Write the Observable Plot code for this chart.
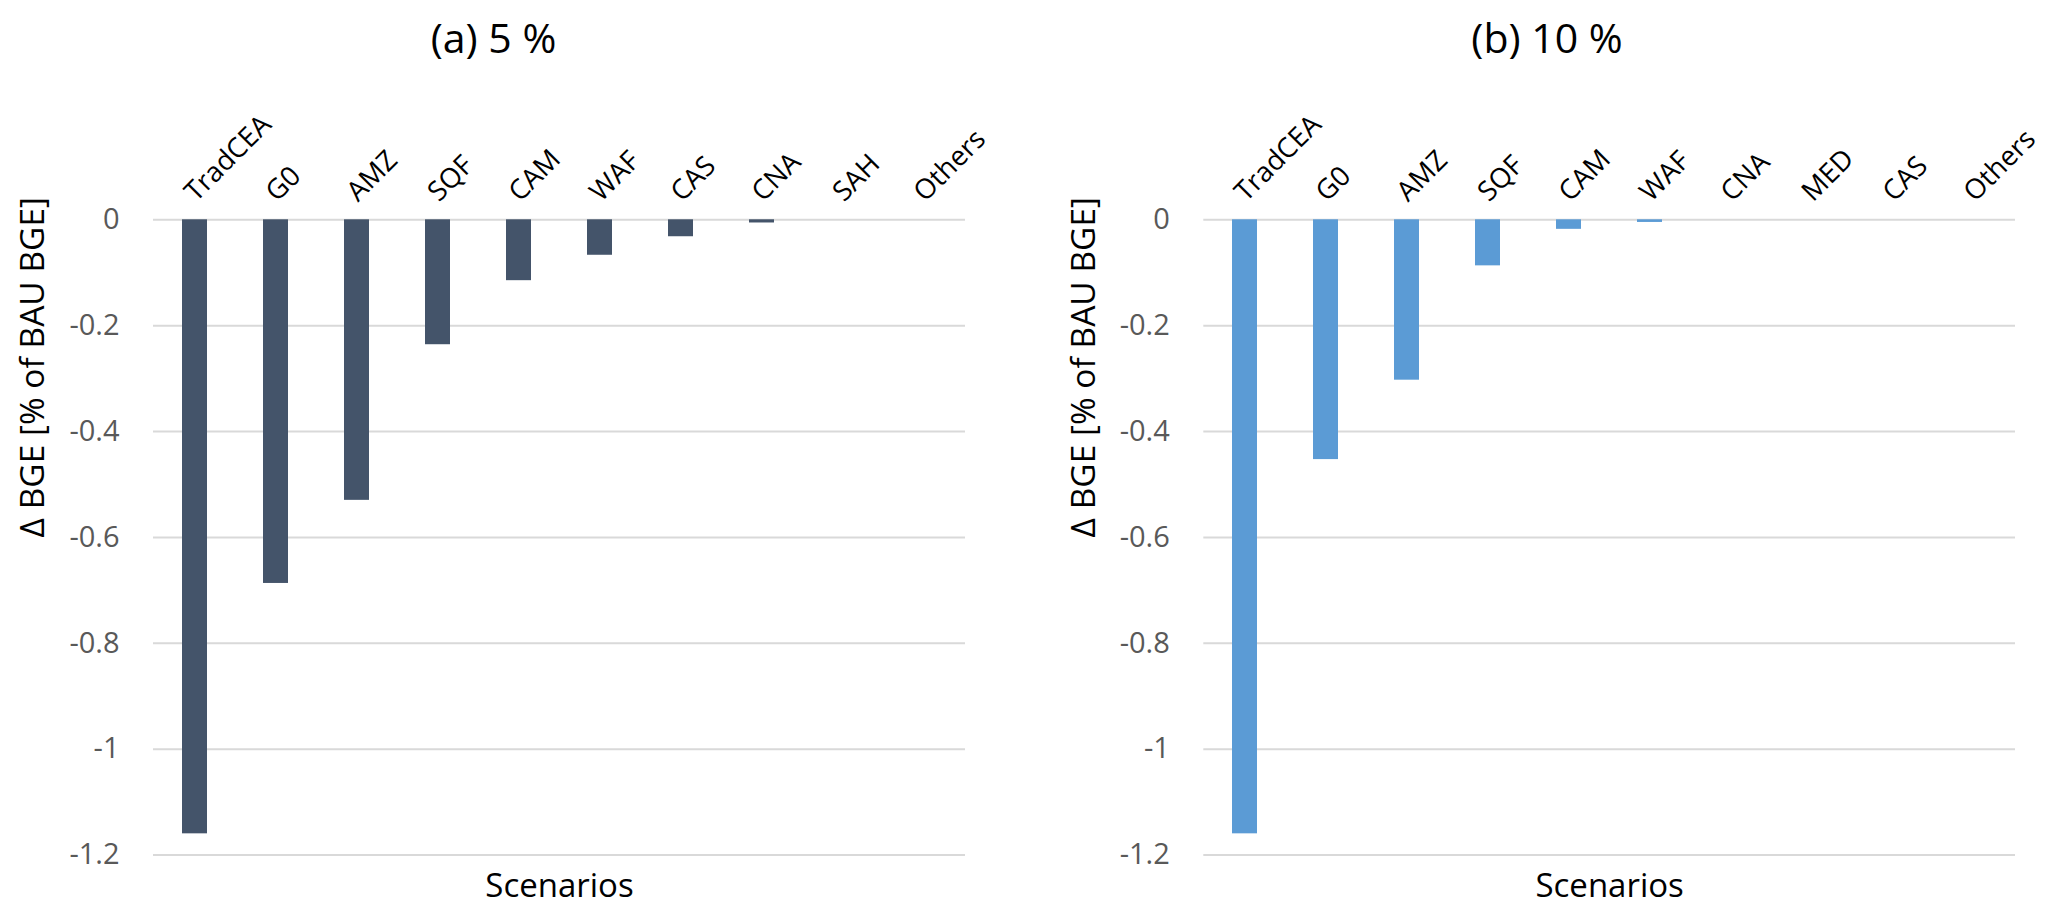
<!DOCTYPE html>
<html>
<head>
<meta charset="utf-8">
<script src="https://cdn.jsdelivr.net/npm/d3@7"></script>
<script src="https://cdn.jsdelivr.net/npm/@observablehq/plot@0.6"></script>
<style>
  html, body { margin: 0; padding: 0; background: #fff; }
  body { width: 2067px; height: 916px; overflow: hidden; font-family: "Open Sans", sans-serif; }
  #wrap { display: flex; flex-direction: row; }
  .panel { display: flex; flex-direction: column; }
  .title { height: 74px; line-height: 74px; font-size: 41px; color: #000; text-align: center; white-space: pre; }
  svg { display: block; }
</style>
</head>
<body>
<div id="wrap">
  <div class="panel" id="p1"><div class="title" style="padding-right:46px">(a) 5 %</div></div>
  <div class="panel" id="p2"><div class="title" style="padding-right:6px">(b) 10 %</div></div>
</div>
<script>
// Panel (a) 5 %
const categories5 = ["TradCEA", "G0", "AMZ", "SQF", "CAM", "WAF", "CAS", "CNA", "SAH", "Others"];
const values5 = [-1.16, -0.687, -0.530, -0.236, -0.115, -0.067, -0.032, -0.006, 0, 0];
// Panel (b) 10 %
const categories10 = ["TradCEA", "G0", "AMZ", "SQF", "CAM", "WAF", "CNA", "MED", "CAS", "Others"];
const values10 = [-1.16, -0.453, -0.303, -0.087, -0.018, -0.005, 0, 0, 0, 0];
// Axis
const yTicks = [0, -0.2, -0.4, -0.6, -0.8, -1, -1.2];
const yLabel = "Δ BGE [% of BAU BGE]";
const xLabel = "Scenarios";

function panel(cats, vals, color, opts) {
  const data = cats.map((c, i) => ({cat: c, value: vals[i]}));
  return Plot.plot({
    width: opts.width,
    height: 842,
    marginTop: 145.3,
    marginBottom: 61.5,
    marginLeft: opts.marginLeft,
    marginRight: opts.marginRight,
    style: {fontFamily: "Open Sans, sans-serif", background: "#fff", overflow: "visible"},
    x: {domain: cats, axis: null, paddingInner: 0.69, paddingOuter: 0.345},
    y: {domain: [-1.2, 0], axis: null},
    marks: [
      Plot.ruleY(yTicks, {stroke: "#d9d9d9", strokeWidth: 2}),
      Plot.barY(data, {x: "cat", y1: 0, y2: "value", fill: color}),
      Plot.axisY({ticks: yTicks, tickSize: 0, tickPadding: 34, label: null,
        tickFormat: d => String(+d.toFixed(1)), fontSize: 29, fill: "#595959"}),
      Plot.text(cats, {x: d => d, frameAnchor: "top", dx: 1, dy: -17, rotate: -45,
        textAnchor: "start", lineAnchor: "bottom", fontSize: 27.5, fill: "#000"}),
      Plot.text([yLabel], {frameAnchor: "left", dx: -120, rotate: -90,
        fontSize: 33.5, fill: "#000"}),
      Plot.text([xLabel], {frameAnchor: "bottom", dy: 31, lineAnchor: "middle",
        fontSize: 33, fill: "#000"})
    ]
  });
}

document.getElementById("p1").appendChild(
  panel(categories5, values5, "#44546a", {width: 1033, marginLeft: 153, marginRight: 68}));
document.getElementById("p2").appendChild(
  panel(categories10, values10, "#5b9bd5", {width: 1034, marginLeft: 170.3, marginRight: 52}));
</script>
</body>
</html>
